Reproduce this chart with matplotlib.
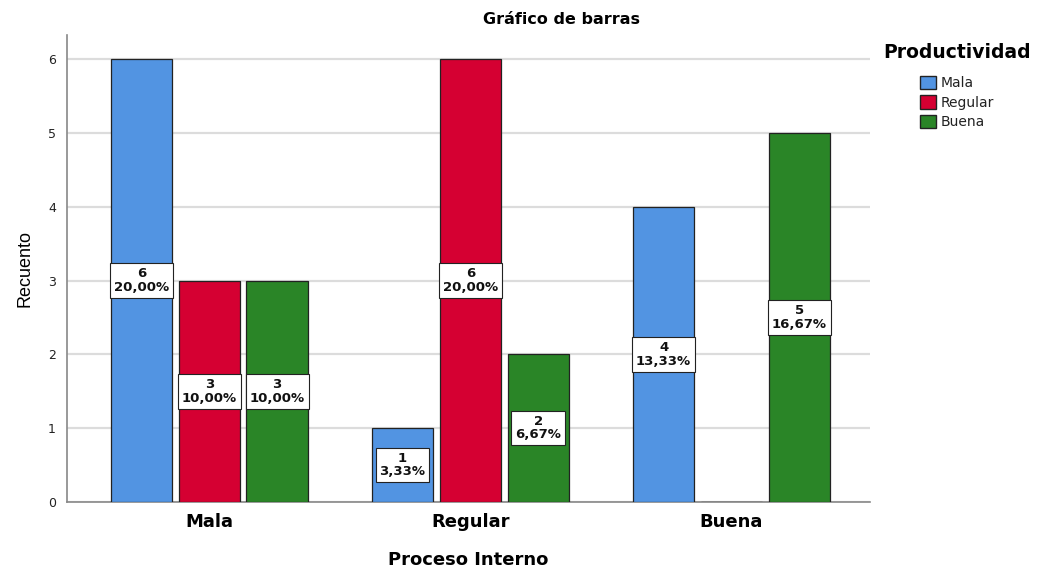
import numpy as np
import matplotlib.pyplot as plt
from matplotlib.patches import Patch

plt.rcParams['font.family'] = ['DejaVu Sans']

categorias = ["Mala", "Regular", "Buena"]
series = ["Mala", "Regular", "Buena"]
recuento = {
    "Mala": [6, 1, 4],
    "Regular": [3, 6, 0],
    "Buena": [3, 2, 5],
}
total = 30
colores = ["#5294e2", "#d50032", "#2a8527"]

fig = plt.figure(figsize=(10.4, 5.67), dpi=100)
ax = fig.add_axes([0.0644, 0.1146, 0.772, 0.8237])

x = np.arange(len(categorias))
ancho = 0.235
paso = 0.26

for i, (serie, color) in enumerate(zip(series, colores)):
    vals = recuento[serie]
    pos = x + (i - 1) * paso
    ax.bar(pos, vals, width=ancho, color=color, edgecolor="#222222", linewidth=0.9, zorder=3)
    for xp, v in zip(pos, vals):
        if v == 0:
            continue
        pct = f"{v / total * 100:.2f}".replace(".", ",") + "%"
        ax.text(xp, v / 2, f"{v}\n{pct}", ha="center", va="center", fontsize=9.5,
                fontweight="bold", linespacing=1.05, zorder=5, color="#111111",
                bbox=dict(boxstyle="square,pad=0.3", facecolor="white", edgecolor="#222222", linewidth=0.8))

ax.set_xlim(-0.545, 2.53)
ax.set_ylim(0, 6.33)
ax.set_yticks(range(0, 7))
ax.yaxis.grid(True, color="#dcdcdc", linewidth=1.6, zorder=0)
ax.set_axisbelow(True)
ax.set_xticks(x)
ax.set_xticklabels(categorias, fontsize=13, fontweight="bold")
ax.tick_params(axis="x", length=0, pad=8)
ax.tick_params(axis="y", length=0, labelsize=9, pad=8, labelcolor="#222222")
for s in ["top", "right"]:
    ax.spines[s].set_visible(False)
ax.spines["left"].set_color("#888888")
ax.spines["bottom"].set_color("#888888")
ax.spines["left"].set_linewidth(1.2)
ax.spines["bottom"].set_linewidth(1.2)

ax.set_xlabel("Proceso Interno", fontsize=13, fontweight="bold", labelpad=14)
ax.set_ylabel("Recuento", fontsize=13, labelpad=10, family="Liberation Sans")
fig.text(0.54, 0.965, "Gráfico de barras", ha="center", va="center", fontsize=11.5, fontweight="bold")

handles = [Patch(facecolor=c, edgecolor="#222222", label=s) for s, c in zip(series, colores)]
leg = fig.legend(handles=handles, title="Productividad", loc="upper left",
                 bbox_to_anchor=(0.837, 0.946), frameon=False, fontsize=10,
                 handlelength=1.2, handleheight=1.1, handletextpad=0.3, labelspacing=0.35,
                 title_fontproperties={"weight": "bold", "size": 13.5})
leg._legend_box.sep = 10
for t in leg.get_texts():
    t.set_color("#222222")

fig.savefig("out.png", dpi=100)
